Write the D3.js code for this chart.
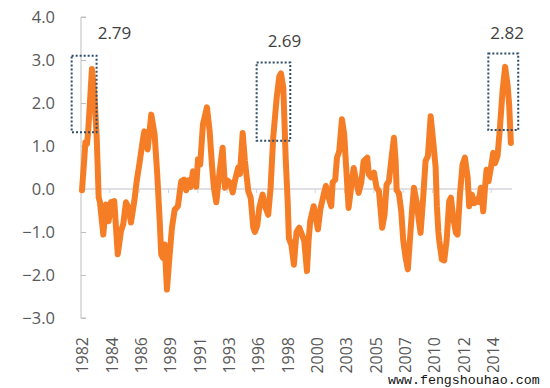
<!DOCTYPE html>
<html>
<head>
<meta charset="utf-8">
<script src="https://cdn.jsdelivr.net/npm/d3@7/dist/d3.min.js"></script>
<style>
  body { margin: 0; background: #fff; }
  svg { display: block; }
</style>
</head>
<body>
<div id="chart"></div>
<script>
"use strict";

// decimal years and index values
const years = [
  1982.08, 1982.24, 1982.35, 1982.48, 1982.56, 1982.88, 1983.07, 1983.26, 1983.42, 1983.52,
  1983.79, 1984.01, 1984.22, 1984.41, 1984.54, 1984.67, 1984.95, 1985.21, 1985.39, 1985.61,
  1985.83, 1986.01, 1986.28, 1986.47, 1986.68, 1986.95, 1987.08, 1987.35, 1987.64, 1987.91,
  1988.12, 1988.32, 1988.44, 1988.58, 1988.72, 1988.9, 1989.12, 1989.3, 1989.52, 1989.78,
  1990.05, 1990.27, 1990.45, 1990.64, 1990.8, 1990.99, 1991.13, 1991.25, 1991.39, 1991.57,
  1991.79, 1992.11, 1992.33, 1992.51, 1992.67, 1992.86, 1993.13, 1993.37, 1993.56, 1993.74,
  1993.96, 1994.18, 1994.36, 1994.62, 1994.76, 1994.98, 1995.16, 1995.43, 1995.62, 1995.83,
  1995.96, 1996.15, 1996.31, 1996.58, 1996.77, 1997.03, 1997.22, 1997.43, 1997.71, 1997.92,
  1998.05, 1998.24, 1998.43, 1998.59, 1998.69, 1998.89, 1999.09, 1999.3, 1999.52, 1999.74,
  1999.92, 2000.14, 2000.27, 2000.4, 2000.68, 2000.86, 2001.02, 2001.21, 2001.48, 2001.66,
  2001.88, 2002.09, 2002.2, 2002.41, 2002.55, 2002.73, 2002.95, 2003.13, 2003.29, 2003.48,
  2003.69, 2003.89, 2004.07, 2004.29, 2004.5, 2004.69, 2004.98, 2005.11, 2005.3, 2005.52,
  2005.73, 2005.92, 2006.18, 2006.37, 2006.53, 2006.72, 2006.9, 2007.12, 2007.26, 2007.34,
  2007.52, 2007.71, 2007.87, 2008.06, 2008.24, 2008.4, 2008.59, 2008.73, 2008.94, 2009.13,
  2009.26, 2009.47, 2009.66, 2009.85, 2010.07, 2010.27, 2010.47, 2010.57, 2010.69, 2010.76,
  2010.97, 2011.16, 2011.35, 2011.56, 2011.7, 2011.88, 2012.1, 2012.23, 2012.42, 2012.63,
  2012.82, 2013.04, 2013.16, 2013.38, 2013.57, 2013.76, 2013.92, 2014.1, 2014.29, 2014.45,
  2014.56, 2014.72, 2014.91, 2015.09, 2015.25, 2015.44, 2015.63, 2015.84, 2016.05, 2016.25,
  2016.37, 2016.51
];
const values = [
  -0.03, 0.6, 1.08, 1.05, 1.27, 2.79, 2.2, 1.2, -0.2, -0.3,
  -1.06, -0.36, -0.75, -0.3, -0.6, -0.28, -1.52, -0.98, -0.82, -0.31,
  -0.45, -0.78, -0.28, 0.18, 0.57, 1.11, 1.34, 0.92, 1.73, 1.27,
  0.34, -0.75, -1.52, -1.6, -1.29, -2.34, -1.52, -0.9, -0.48, -0.4,
  0.18, 0.22, -0.03, 0.2, 0.05, 0.41, 0.3, 0.05, 0.69, 0.57,
  1.5, 1.9, 1.34, 0.57, 0.03, -0.31, 0.41, 0.96, 0.03, 0.2,
  0.15, -0.08, 0.2, 0.5, 0.35, 1.3, 0.65, -0.05, -0.2, -0.9,
  -1.0, -0.85, -0.44, -0.13, -0.4, -0.6, 0.03, 1.19, 2.12, 2.62,
  2.69, 2.36, 0.73, -0.28, -1.15, -1.3, -1.76, -1.0, -0.9, -1.06,
  -1.2, -1.91, -1.2, -0.75, -0.4, -0.7, -0.94, -0.48, -0.13, 0.07,
  -0.2, -0.4, 0.15, 0.22, 0.73, 0.88, 1.62, 1.27, 0.49, -0.44,
  0.05, 0.49, 0.22, -0.09, 0.15, 0.65, 0.73, 0.34, 0.27, 0.38,
  0.03, -0.05, -0.9, -0.6, 0.1, 0.18, 0.65, 1.19, 0.65, -0.03,
  -0.1, -0.52, -1.2, -1.6, -1.87, -1.2, -0.44, 0.03, -0.3, -0.75,
  -1.02, -0.2, 0.65, 0.77, 1.69, 1.12, 0.5, -0.4, -1.0, -1.2,
  -1.64, -1.66, -1.2, -0.28, -0.2, -0.67, -1.02, -1.06, -0.13, 0.57,
  0.73, 0.27, -0.4, -0.13, -0.33, -0.25, -0.3, 0.03, -0.52, 0.1,
  0.45, 0.18, 0.5, 0.84, 0.6, 0.77, 1.42, 2.27, 2.84, 2.4,
  1.96, 1.07
];

const yTicks = [-3, -2, -1, 0, 1, 2, 3, 4];
const xTickLabels = ["1982", "1984", "1986", "1989", "1991", "1993", "1996", "1998",
  "2000", "2003", "2005", "2007", "2010", "2012", "2014"];
const xTickStep = 2.355; // years between category labels
const xTickStart = 1982.08;

// highlighted peaks: label, year range of box, value range of box
const peakLabels = ["2.79", "2.69", "2.82"];
const peakYears = [[1981.25, 1983.25], [1996.1, 1998.8], [2014.7, 2017.1]];
const peakValues = [[1.32, 3.1], [1.12, 2.94], [1.37, 3.15]];

const W = 550, H = 388;
const x = d3.scaleLinear().domain([1982, 2016.6]).range([81, 512]);
const y = d3.scaleLinear().domain([-3, 4]).range([318, 17]);

const svg = d3.select("#chart").append("svg")
  .attr("width", W).attr("height", H)
  .attr("viewBox", [0, 0, W, H]);

const font = "'Open Sans', 'DejaVu Sans', sans-serif";

// y axis
const yAxis = svg.append("g").attr("transform", "translate(81,0)")
  .call(d3.axisRight(y).tickValues(yTicks).tickSize(5).tickFormat(""));
yAxis.select(".domain").attr("stroke", "#bfbfbf").attr("d", `M5,${y(4)}H0V${y(-3)}H5`);
yAxis.selectAll(".tick line").attr("stroke", "#bfbfbf");

svg.append("g").selectAll("text")
  .data(yTicks)
  .join("text")
  .attr("x", 55)
  .attr("y", d => y(d))
  .attr("dy", "0.36em")
  .attr("text-anchor", "end")
  .attr("font-family", font)
  .attr("font-size", 16.5)
  .attr("fill", "#595959")
  .text(d3.format(".1f"));

// zero line with category ticks
svg.append("line")
  .attr("x1", x(1982)).attr("x2", x(2016.6))
  .attr("y1", y(0)).attr("y2", y(0))
  .attr("stroke", "#d4d4dc").attr("stroke-width", 1.5);

svg.append("g").selectAll("line")
  .data(xTickLabels)
  .join("line")
  .attr("x1", (d, i) => x(xTickStart + i * xTickStep) - 1.5)
  .attr("x2", (d, i) => x(xTickStart + i * xTickStep) - 1.5)
  .attr("y1", y(0)).attr("y2", y(0) + 4)
  .attr("stroke", "#d4d4dc");

svg.append("g").selectAll("text")
  .data(xTickLabels)
  .join("text")
  .attr("transform", (d, i) => `translate(${x(xTickStart + i * xTickStep) + 0.5},337) rotate(-90)`)
  .attr("dy", "0.36em")
  .attr("text-anchor", "end")
  .attr("font-family", font)
  .attr("font-size", 16)
  .attr("fill", "#595959")
  .text(d => d);

// the series
const line = d3.line()
  .x((d, i) => x(years[i]))
  .y(d => y(d));

svg.append("path")
  .datum(values)
  .attr("fill", "none")
  .attr("stroke", "#f57d26")
  .attr("stroke-width", 6)
  .attr("stroke-linejoin", "round")
  .attr("stroke-linecap", "round")
  .attr("d", line);

// dotted boxes round the peaks
svg.append("g").selectAll("rect")
  .data(peakYears)
  .join("rect")
  .attr("x", d => x(d[0]))
  .attr("width", d => x(d[1]) - x(d[0]))
  .attr("y", (d, i) => y(peakValues[i][1]))
  .attr("height", (d, i) => y(peakValues[i][0]) - y(peakValues[i][1]))
  .attr("fill", "none")
  .attr("stroke", "#2e4d6b")
  .attr("stroke-width", 2)
  .attr("stroke-dasharray", "2,2");

// label placement relative to each box (left edge shift, gap above)
const labelDx = [26, 11, 2];
const labelDy = [17, 16, 15];
svg.append("g").selectAll("text")
  .data(peakLabels)
  .join("text")
  .attr("x", (d, i) => x(peakYears[i][0]) + labelDx[i])
  .attr("y", (d, i) => y(peakValues[i][1]) - labelDy[i])
  .attr("font-family", font)
  .attr("font-size", 17)
  .attr("fill", "#404040")
  .text(d => d);

// watermark
svg.append("rect")
  .attr("x", 386).attr("y", 372).attr("width", 158).attr("height", 16)
  .attr("fill", "#fff");
svg.append("text")
  .attr("x", 388).attr("y", 384)
  .attr("font-family", "'Liberation Mono', 'DejaVu Sans Mono', monospace")
  .attr("font-size", 13.3)
  .attr("fill", "#111")
  .text("www.fengshouhao.com");
</script>
</body>
</html>
